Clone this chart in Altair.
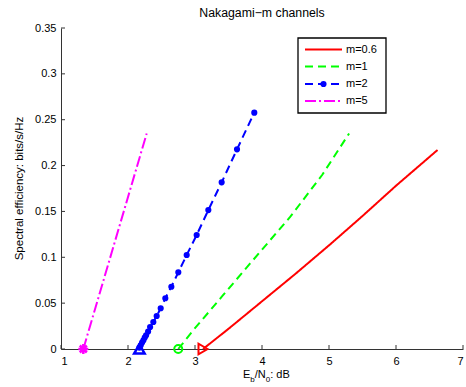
import altair as alt
import pandas as pd

# ---- data ----
red_x = [3.12, 3.5, 4.0, 4.5, 5.0, 5.5, 6.0, 6.62]
red_y = [0.0, 0.022, 0.052, 0.082, 0.113, 0.145, 0.178, 0.217]

green_x = [2.75, 2.98, 3.4, 3.82, 4.42, 4.9, 5.3]
green_y = [0.0, 0.021, 0.057, 0.093, 0.144, 0.19, 0.235]

blue_x = [2.17, 2.19, 2.21, 2.23, 2.25, 2.27, 2.30, 2.33, 2.378, 2.428, 2.488,
          2.557, 2.647, 2.751, 2.876, 3.025, 3.199, 3.398, 3.627, 3.885]
blue_y = [0.0015, 0.004, 0.007, 0.0095, 0.0125, 0.015, 0.019, 0.024, 0.0294, 0.036, 0.0444,
          0.0553, 0.0679, 0.0836, 0.1025, 0.1243, 0.1515, 0.1817, 0.2177, 0.2577]

mag_x = [1.333, 2.279]
mag_y = [0.0, 0.235]

# start markers (Eb/N0 limits at zero spectral efficiency)
start_x = {"m=0.6": 3.12, "m=1": 2.75, "m=2": 2.17, "m=5": 1.333}

x_ticks = [1, 2, 3, 4, 5, 6, 7]
y_ticks = [0, 0.05, 0.1, 0.15, 0.2, 0.25, 0.3, 0.35]

labels = ["m=0.6", "m=1", "m=2", "m=5"]
colors = ["#ff0000", "#00ff00", "#0000ff", "#ff00ff"]
dashes = [[1, 0], [8, 5], [8, 5], [11, 3, 2, 3]]

FONT = "Liberation Sans"
W, H = 402, 321

xs = alt.Scale(domain=[1, 7], nice=False, zero=False)
ys = alt.Scale(domain=[0, 0.35], nice=False)

xaxis = alt.Axis(values=x_ticks, tickSize=0, labelPadding=6, labelFontSize=11, labelFont=FONT,
                 labelColor="black", domainColor="#333333", grid=False, title=None, format="~g")
yaxis = alt.Axis(values=y_ticks, tickSize=0, labelPadding=5, labelFontSize=11, labelFont=FONT,
                 labelColor="black", domainColor="#333333", grid=False, title=None, format="~g")

def line_layer(xv, yv, color, dash, with_axes=False):
    df = pd.DataFrame({"x": xv, "y": yv})
    ch = alt.Chart(df).mark_line(color=color, strokeDash=dash, strokeWidth=2)
    if with_axes:
        return ch.encode(x=alt.X("x:Q", scale=xs, axis=xaxis), y=alt.Y("y:Q", scale=ys, axis=yaxis))
    return ch.encode(x=alt.X("x:Q", scale=xs), y=alt.Y("y:Q", scale=ys))

red = line_layer(red_x, red_y, colors[0], dashes[0], with_axes=True)
green = line_layer(green_x, green_y, colors[1], dashes[1])
blue = line_layer(blue_x, blue_y, colors[2], dashes[2])
mag = line_layer(mag_x, mag_y, colors[3], dashes[3])

blue_dots = alt.Chart(pd.DataFrame({"x": blue_x, "y": blue_y})).mark_point(
    shape="circle", filled=True, color=colors[2], size=38, opacity=1
).encode(x=alt.X("x:Q", scale=xs), y=alt.Y("y:Q", scale=ys))

ASTER = "M-1,0L1,0M0,-1L0,1M-0.7,-0.7L0.7,0.7M-0.7,0.7L0.7,-0.7"

m_red = alt.Chart(pd.DataFrame({"x": [start_x["m=0.6"]], "y": [0.0]})).mark_point(
    shape="triangle-right", stroke=colors[0], strokeWidth=2, size=110, opacity=1, fillOpacity=0
).encode(x=alt.X("x:Q", scale=xs), y=alt.Y("y:Q", scale=ys))
m_green = alt.Chart(pd.DataFrame({"x": [start_x["m=1"]], "y": [0.0]})).mark_point(
    shape="circle", stroke=colors[1], strokeWidth=2, size=64, opacity=1, fillOpacity=0
).encode(x=alt.X("x:Q", scale=xs), y=alt.Y("y:Q", scale=ys))
m_blue = alt.Chart(pd.DataFrame({"x": [start_x["m=2"]], "y": [0.0]})).mark_point(
    shape="triangle-up", stroke=colors[2], strokeWidth=2.5, size=110, opacity=1, fillOpacity=0
).encode(x=alt.X("x:Q", scale=xs), y=alt.Y("y:Q", scale=ys))
m_mag = alt.Chart(pd.DataFrame({"x": [start_x["m=5"]], "y": [0.0]})).mark_point(
    shape=ASTER, stroke=colors[3], strokeWidth=2.5, size=100, opacity=1, fillOpacity=0
).encode(x=alt.X("x:Q", scale=xs), y=alt.Y("y:Q", scale=ys))

# inward ticks (MATLAB style)
xt = alt.Chart(pd.DataFrame({"t": x_ticks})).mark_rule(color="#333333", strokeWidth=1).encode(
    x=alt.X("t:Q", scale=xs), y=alt.value(H), y2=alt.value(H - 4))
yt = alt.Chart(pd.DataFrame({"t": y_ticks})).mark_rule(color="#333333", strokeWidth=1).encode(
    y=alt.Y("t:Q", scale=ys), x=alt.value(0), x2=alt.value(4))

# title and axis titles
title = alt.Chart(pd.DataFrame({"s": ["Nakagami\u2212m channels"]})).mark_text(
    font=FONT, fontSize=12.3, color="black", align="center", baseline="alphabetic").encode(
    x=alt.value(W / 2), y=alt.value(-11), text="s:N")
ylab = alt.Chart(pd.DataFrame({"s": ["Spectral efficiency: bits/s/Hz"]})).mark_text(
    font=FONT, fontSize=11.5, color="black", align="center", baseline="middle", angle=270).encode(
    x=alt.value(-41), y=alt.value(H / 2), text="s:N")

xl_parts = [("E", 11, 0), ("b", 8, 4), ("/N", 11, 0), ("0", 8, 4), (": dB", 11, 0)]
xl_layers = []
cx = 182.0
widths = {"E": 0.667, "b": 0.556, "/N": 1.0, "0": 0.556, ": dB": 1.779}
for s, fs, dy in xl_parts:
    xl_layers.append(alt.Chart(pd.DataFrame({"s": [s]})).mark_text(
        font=FONT, fontSize=fs, color="black", align="left", baseline="alphabetic").encode(
        x=alt.value(cx), y=alt.value(350 + dy), text="s:N"))
    cx += widths[s] * fs

# legend (drawn as a boxed key)
leg_y = [21.5, 38.5, 56, 73]
box = alt.Chart(pd.DataFrame({"a": [0]})).mark_rect(
    fill="white", stroke="black", strokeWidth=1.3).encode(
    x=alt.value(237), x2=alt.value(325), y=alt.value(10), y2=alt.value(85))
leg_layers = [box]
for lbl, col, dsh, yy in zip(labels, colors, dashes, leg_y):
    leg_layers.append(alt.Chart(pd.DataFrame({"s": [lbl]})).mark_rule(
        color=col, strokeDash=dsh, strokeWidth=2).encode(
        x=alt.value(244), x2=alt.value(281), y=alt.value(yy)))
    leg_layers.append(alt.Chart(pd.DataFrame({"s": [lbl]})).mark_text(
        font=FONT, fontSize=11, color="black", align="left", baseline="middle").encode(
        x=alt.value(285), y=alt.value(yy), text="s:N"))
leg_layers.append(alt.Chart(pd.DataFrame({"s": ["m=2"]})).mark_point(
    shape="circle", filled=True, color=colors[2], size=38, opacity=1).encode(
    x=alt.value(262.5), y=alt.value(leg_y[2])))

chart = alt.layer(
    red, green, mag, blue, blue_dots, m_red, m_green, m_blue, m_mag, xt, yt,
    title, ylab, *xl_layers, *leg_layers
).properties(
    width=W, height=H,
    padding={"left": 61, "top": 28, "right": 3, "bottom": 38},
    autosize=alt.AutoSizeParams(type="none"),
    background="white",
).configure_view(stroke=None)

chart.save("out.html", embed_options={"renderer": "svg", "actions": False})
